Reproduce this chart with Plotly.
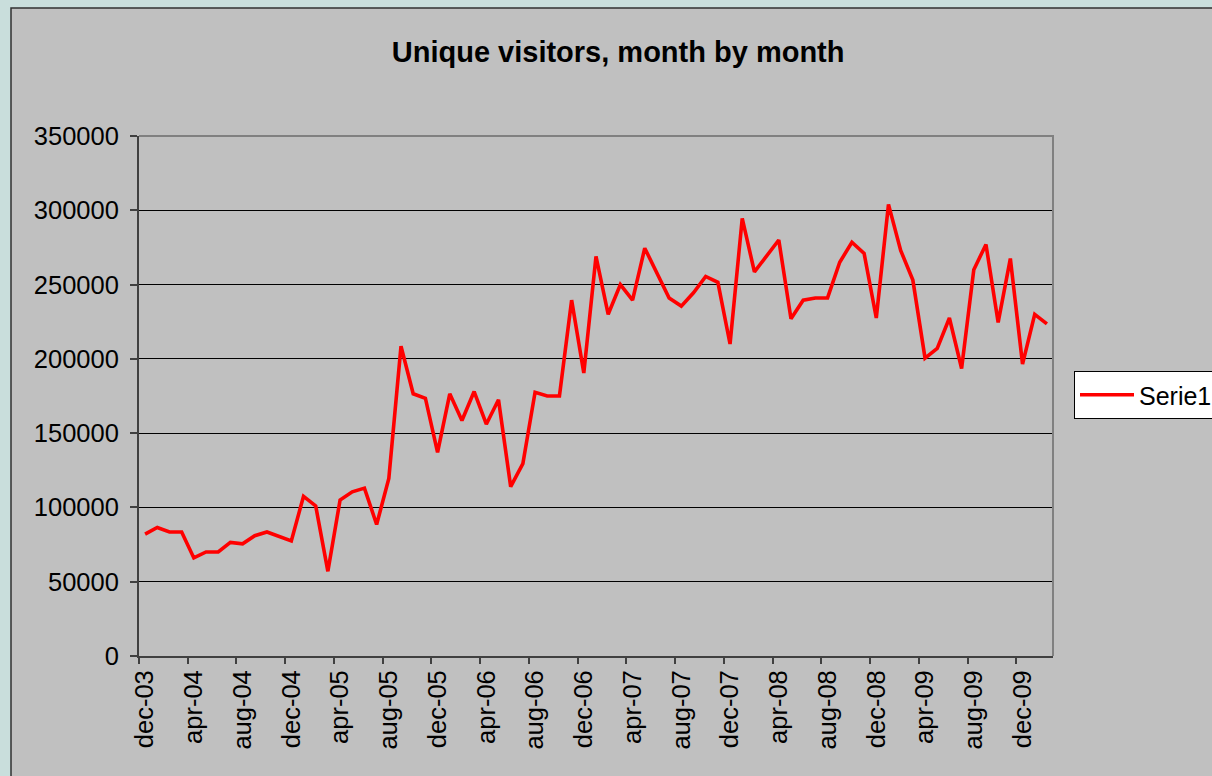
import plotly.graph_objects as go

# ---- data ----
months = [
    "dec-03", "jan-04", "feb-04", "mar-04", "apr-04", "may-04", "jun-04", "jul-04",
    "aug-04", "sep-04", "oct-04", "nov-04", "dec-04", "jan-05", "feb-05", "mar-05",
    "apr-05", "may-05", "jun-05", "jul-05", "aug-05", "sep-05", "oct-05", "nov-05",
    "dec-05", "jan-06", "feb-06", "mar-06", "apr-06", "may-06", "jun-06", "jul-06",
    "aug-06", "sep-06", "oct-06", "nov-06", "dec-06", "jan-07", "feb-07", "mar-07",
    "apr-07", "may-07", "jun-07", "jul-07", "aug-07", "sep-07", "oct-07", "nov-07",
    "dec-07", "jan-08", "feb-08", "mar-08", "apr-08", "may-08", "jun-08", "jul-08",
    "aug-08", "sep-08", "oct-08", "nov-08", "dec-08", "jan-09", "feb-09", "mar-09",
    "apr-09", "may-09", "jun-09", "jul-09", "aug-09", "sep-09", "oct-09", "nov-09",
    "dec-09", "jan-10", "feb-10",
]
visitors = [
    82000, 86500, 83500, 83500, 66000, 70000, 70000, 76500,
    75500, 81000, 83500, 80500, 77500, 107500, 101000, 57000,
    105000, 110500, 113000, 88500, 119500, 208500, 176500, 173500,
    137000, 176500, 158500, 178000, 156000, 172500, 114000, 129500,
    177500, 175000, 175000, 239500, 190500, 269000, 230000, 250000,
    239500, 274500, 257500, 241000, 235500, 244500, 255500, 251500,
    210000, 294500, 258500, 269500, 280000, 227000, 239500, 241000,
    241000, 265000, 278500, 271000, 227500, 304000, 273000, 253000,
    200500, 207000, 227500, 193500, 260000, 277000, 224500, 267500,
    196500, 230000, 223500,
]
tick_labels = [
    "dec-03", "apr-04", "aug-04", "dec-04", "apr-05", "aug-05", "dec-05",
    "apr-06", "aug-06", "dec-06", "apr-07", "aug-07", "dec-07", "apr-08",
    "aug-08", "dec-08", "apr-09", "aug-09", "dec-09",
]
series_name = "Serie1"
title_text = "Unique visitors, month by month"

FONT = "Liberation Sans, Arial, sans-serif"
OUTER = "#c9dedc"
x_idx = list(range(len(months)))
label_pos = [months.index(m) for m in tick_labels]
boundary_pos = [p - 0.5 for p in label_pos]
xrange = [-0.5, len(months) - 0.5]

fig = go.Figure()
fig.add_trace(go.Scatter(
    x=x_idx, y=visitors, mode="lines", name=series_name,
    line=dict(color="#ff0000", width=3.6),
    customdata=months, hovertemplate="%{customdata}: %{y}<extra></extra>",
))
# invisible trace to carry the boundary tick axis
fig.add_trace(go.Scatter(
    x=x_idx, y=visitors, mode="lines", xaxis="x2", showlegend=False,
    line=dict(width=0), hoverinfo="skip", opacity=0,
))

fig.update_layout(
    width=1212, height=776,
    paper_bgcolor=OUTER,
    plot_bgcolor="#c0c0c0",
    margin=dict(l=139, r=159, t=136, b=120, autoexpand=False),
    font=dict(family=FONT, size=25, color="#000000"),
    title=dict(text="<b>" + title_text + "</b>", x=0.51, xanchor="center",
               y=1 - 52 / 776, yanchor="middle",
               font=dict(family=FONT, size=29, color="#000000")),
    xaxis=dict(
        range=xrange, tickmode="array", tickvals=label_pos, ticktext=tick_labels,
        tickangle=-90, ticks="", showgrid=False, zeroline=False,
        showline=True, linecolor="#404040", linewidth=2,
        ticklabelstandoff=2, tickfont=dict(size=25.5, family=FONT),
    ),
    xaxis2=dict(
        range=xrange, overlaying="x", anchor="y", side="bottom",
        tickmode="array", tickvals=boundary_pos, ticks="outside", ticklen=7,
        tickwidth=1.5, tickcolor="#404040", showticklabels=False,
        showgrid=False, zeroline=False, showline=False,
    ),
    yaxis=dict(
        range=[0, 350000], dtick=50000, tickformat="d",
        ticks="outside", ticklen=7, tickwidth=1.5, tickcolor="#404040",
        showgrid=True, gridcolor="#000000", gridwidth=1,
        zeroline=False, showline=True, linecolor="#404040", linewidth=2,
        ticklabelstandoff=6, tickfont=dict(size=25.5, family=FONT),
    ),
    legend=dict(
        x=(1074 - 139) / 914, xanchor="left", y=(656 - 395) / 520, yanchor="middle",
        bgcolor="#ffffff", bordercolor="#000000", borderwidth=1,
        font=dict(size=25, family=FONT), itemwidth=54, tracegroupgap=0,
    ),
    showlegend=True,
    shapes=[
        # chart area panel
        dict(type="rect", xref="paper", yref="paper", layer="below",
             x0=(11 - 139) / 914, x1=(1230 - 139) / 914,
             y0=(656 - 800) / 520, y1=(656 - 8) / 520,
             fillcolor="#c0c0c0", line=dict(color="#303030", width=1.5)),
        # top and right border of plot area
        dict(type="path", xref="paper", yref="paper", layer="above",
             path="M 0,1 L 1,1 L 1,0", line=dict(color="#808080", width=2)),
    ],
)

fig.write_html(
    "out.html",
    config={"displayModeBar": False},
    post_script="document.body.style.margin='0';"
                "document.body.style.overflow='hidden';"
                "document.body.style.background='" + OUTER + "';",
)
